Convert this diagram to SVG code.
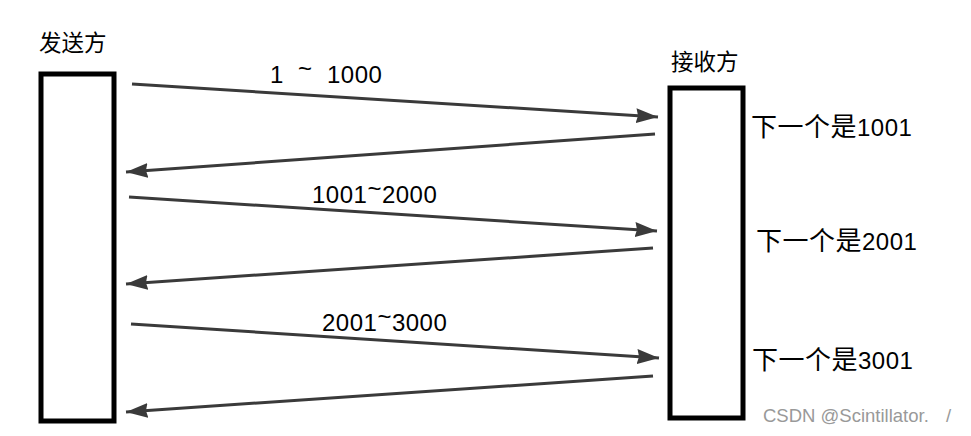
<svg xmlns="http://www.w3.org/2000/svg" width="971" height="436" viewBox="0 0 971 436">
<style>
.box{fill:#fff;stroke:#000;stroke-width:5}
.ln{stroke:#3a3a3a;stroke-width:3;fill:none;marker-end:url(#ah)}
.t{font-family:"Liberation Sans","Noto Sans CJK SC",sans-serif;font-size:24px;letter-spacing:0.5px;fill:#000}
.c{font-family:"Noto Sans CJK SC",sans-serif;font-size:26px;letter-spacing:0.5px}
.cj{font-family:"Noto Sans CJK SC","Liberation Sans",sans-serif;font-size:22.5px;fill:#000}
.wm{font-family:"Liberation Sans",sans-serif;font-size:18.5px;fill:#999}
</style>
<defs>
<marker id="ah" markerUnits="userSpaceOnUse" markerWidth="24" markerHeight="16" refX="22" refY="7.5" orient="auto">
<path d="M0,0 L22,7.5 L0,15 L2,7.5 Z" fill="#3a3a3a"/>
</marker>
</defs>
<rect width="971" height="436" fill="#fff"/>
<g id="sender">
<rect class="box" x="41" y="74" width="73" height="347"/>
<text class="cj" x="39" y="51">发送方</text>
</g>
<g id="receiver">
<rect class="box" x="670" y="88" width="73" height="330"/>
<text class="cj" x="671" y="70">接收方</text>
</g>
<g id="connectors">
<line class="ln" x1="132" y1="84" x2="658" y2="117"/>
<line class="ln" x1="655" y1="134" x2="126" y2="172"/>
<line class="ln" x1="129" y1="197" x2="657" y2="231"/>
<line class="ln" x1="653" y1="248" x2="126" y2="284"/>
<line class="ln" x1="131" y1="324" x2="659" y2="358"/>
<line class="ln" x1="653" y1="376" x2="126" y2="412"/>
</g>
<g id="labels">
<text class="t" y="83"><tspan x="270">1</tspan><tspan x="298" dy="-6">~</tspan><tspan x="327" dy="6">1000</tspan></text>
<text class="t" x="312" y="203">1001<tspan dy="-6">~</tspan><tspan dy="6">2000</tspan></text>
<text class="t" x="322" y="331">2001<tspan dy="-6">~</tspan><tspan dy="6">3000</tspan></text>
<text class="t" x="751" y="136"><tspan class="c">下一个是</tspan>1001</text>
<text class="t" x="756" y="250"><tspan class="c">下一个是</tspan>2001</text>
<text class="t" x="752" y="369"><tspan class="c">下一个是</tspan>3001</text>
</g>
<text class="wm" x="763" y="422">CSDN @Scintillator.<tspan x="946">/</tspan></text>
</svg>
